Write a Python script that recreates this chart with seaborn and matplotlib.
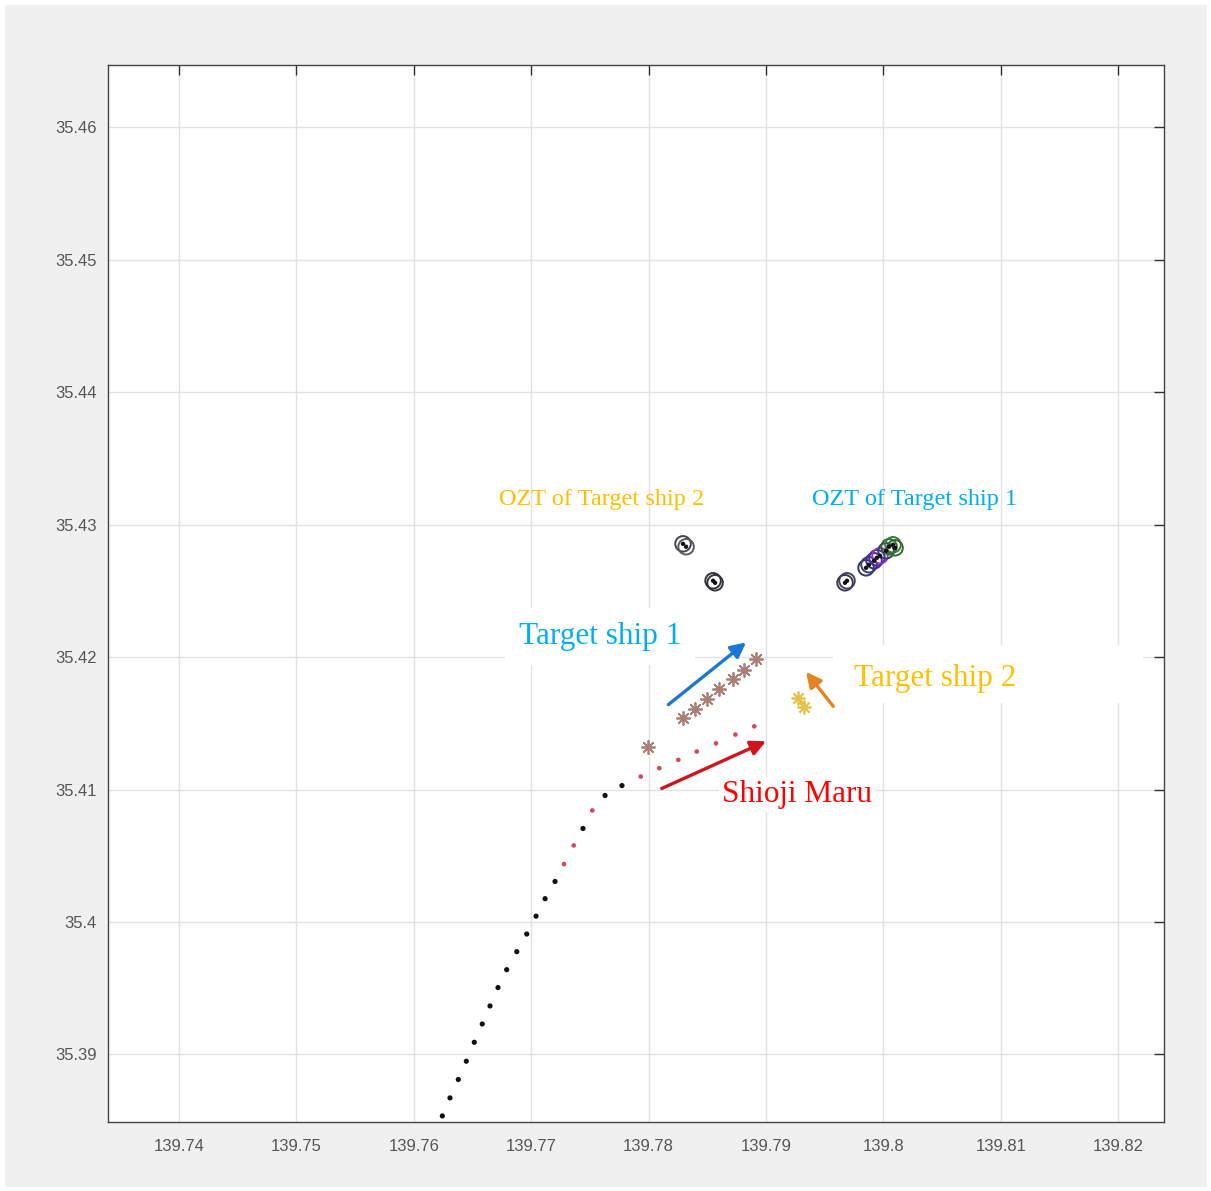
import numpy as np
import pandas as pd
import matplotlib
matplotlib.use("Agg")
import matplotlib.pyplot as plt
from matplotlib.patches import Rectangle
import seaborn as sns

# ---------------- data ----------------
own_black_lon = [139.76243, 139.76308, 139.76379, 139.76447, 139.76515, 139.76583, 139.76649,
                 139.76717, 139.76791, 139.76877, 139.76962, 139.77041, 139.77118, 139.77203,
                 139.77441, 139.77629, 139.77773]
own_black_lat = [35.38536, 35.38672, 35.38811, 35.38949, 35.39092, 35.39230, 35.39366,
                 35.39505, 35.39640, 35.39776, 35.39909, 35.40044, 35.40176, 35.40306,
                 35.40706, 35.40955, 35.41030]
own_red_lon = [139.77279, 139.77362, 139.77520, 139.77933, 139.78091, 139.78253, 139.78410,
               139.78574, 139.78739, 139.78900]
own_red_lat = [35.40437, 35.40578, 35.40842, 35.41098, 35.41161, 35.41224, 35.41287,
               35.41349, 35.41415, 35.41477]

ts1_lon = [139.77998, 139.78296, 139.78398, 139.78500, 139.78602, 139.78716, 139.78815, 139.78915]
ts1_lat = [35.41319, 35.41538, 35.41611, 35.41686, 35.41759, 35.41835, 35.41905, 35.41986]

ts2_lon = [139.79275, 139.79324]
ts2_lat = [35.41692, 35.41621]

ozt2_lon = [139.78293, 139.78319, 139.78549, 139.78566]
ozt2_lat = [35.42855, 35.42833, 35.42576, 35.42561]
ozt2_col = ["#44444e", "#5a5a62", "#34343e", "#34343e"]

ozt1_lon = [139.79673, 139.79690, 139.79852, 139.79877, 139.79920, 139.79945, 139.79971,
            139.80022, 139.80048, 139.80082, 139.80099]
ozt1_lat = [35.42561, 35.42576, 35.42674, 35.42697, 35.42727, 35.42750, 35.42765,
            35.42802, 35.42833, 35.42848, 35.42825]
ozt1_col = ["#3a3a50", "#44445a", "#34346e", "#3a3a74", "#3a2a8a", "#4a2aa0", "#9a30c0",
            "#3a3a70", "#2f6a2f", "#3a7a3a", "#2f6a2f"]

# arrows: (start lon, start lat, end lon, end lat)
arrow_ts1 = [139.78168, 35.41641, 139.78830, 35.42111]
arrow_own = [139.78112, 35.41008, 139.79000, 35.41364]
arrow_ts2 = [139.79573, 35.41628, 139.79341, 35.41888]

xticks = [139.74, 139.75, 139.76, 139.77, 139.78, 139.79, 139.80, 139.81, 139.82]
xticklabels = ["139.74", "139.75", "139.76", "139.77", "139.78", "139.79", "139.8", "139.81", "139.82"]
yticks = [35.39, 35.40, 35.41, 35.42, 35.43, 35.44, 35.45, 35.46]
yticklabels = ["35.39", "35.4", "35.41", "35.42", "35.43", "35.44", "35.45", "35.46"]

# ---------------- figure ----------------
sns.set_style("white")
plt.rcParams['font.family'] = ['Liberation Sans', 'DejaVu Sans']

fig = plt.figure(figsize=(12.11, 11.91), dpi=100, facecolor="white")
fig.patches.append(Rectangle((5 / 1211, 4 / 1191), 1 - 9 / 1211, 1 - 9 / 1191,
                             transform=fig.transFigure, facecolor="#f0f0f0",
                             edgecolor="none", zorder=-10))
ax = fig.add_axes([108 / 1211, 1 - 1122 / 1191, (1164 - 108) / 1211, (1122 - 65) / 1191])
ax.set_facecolor("white")

# own ship track
sns.scatterplot(x=own_black_lon, y=own_black_lat, ax=ax, color="#111111", s=14,
                marker="o", edgecolor="none", zorder=3)
sns.scatterplot(x=own_red_lon, y=own_red_lat, ax=ax, color="#d2485a", s=11,
                marker="o", edgecolor="none", zorder=3)

# target ships (asterisks)
sns.scatterplot(x=ts1_lon, y=ts1_lat, ax=ax, color="#a88078", s=90, marker=(8, 2, 0),
                linewidth=1.3, zorder=3)
sns.scatterplot(x=ts2_lon, y=ts2_lat, ax=ax, color="#e6c24a", s=80, marker=(8, 2, 0),
                linewidth=1.3, zorder=3)

# OZT circles
for lon, lat, col in [(ozt2_lon, ozt2_lat, ozt2_col), (ozt1_lon, ozt1_lat, ozt1_col)]:
    df = pd.DataFrame({"lon": lon, "lat": lat, "c": col})
    ax.scatter(df["lon"], df["lat"], s=125, facecolors="none", edgecolors=df["c"],
               linewidths=1.4, zorder=4)
    sns.scatterplot(data=df, x="lon", y="lat", ax=ax, color="#111111", s=10,
                    marker="o", edgecolor="none", zorder=5)

# arrows
for arr, col in [(arrow_ts1, "#1b78d2"), (arrow_own, "#d0141e"), (arrow_ts2, "#e58223")]:
    ax.annotate("", xy=(arr[2], arr[3]), xytext=(arr[0], arr[1]),
                arrowprops=dict(arrowstyle="-|>,head_length=0.9,head_width=0.45",
                                color=col, lw=2.4, shrinkA=0, shrinkB=0), zorder=6)

# labels
serif = ['Liberation Serif', 'DejaVu Serif']
ax.text(139.77599, 35.4319, "OZT of Target ship 2", color="#ffbf00", fontsize=17.5,
        family=serif, ha="center", va="center", zorder=7)
ax.text(139.80269, 35.4319, "OZT of Target ship 1", color="#00aeef", fontsize=17.5,
        family=serif, ha="center", va="center", zorder=7)
ax.text(139.77586, 35.42155, "Target ship 1", color="#00aeef", fontsize=22.5,
        family=serif, ha="center", va="center", zorder=7,
        bbox=dict(boxstyle="square,pad=0.45", facecolor="white", edgecolor="none"))
ax.add_patch(Rectangle((0.6866, 0.3964), 0.2934, 0.0549, transform=ax.transAxes,
                       facecolor="white", edgecolor="none", zorder=1.5))
ax.text(139.8044, 35.41838, "Target ship 2", color="#ffbf00", fontsize=22.5,
        family=serif, ha="center", va="center", zorder=7)
ax.text(139.79264, 35.40962, "Shioji Maru", color="#ff0000", fontsize=22.5,
        family=serif, ha="center", va="center", zorder=7,
        bbox=dict(boxstyle="square,pad=0.1", facecolor="white", edgecolor="none"))

# axes styling
ax.set_xlim(139.73395, 139.8239)
ax.set_ylim(35.3849, 35.4647)
ax.set_xticks(xticks)
ax.set_xticklabels(xticklabels)
ax.set_yticks(yticks)
ax.set_yticklabels(yticklabels)
ax.grid(True, color="#e2e2e2", linewidth=1.0, zorder=0)
ax.set_axisbelow(True)
ax.tick_params(axis="both", direction="in", length=7, width=1, color="#333333",
               labelsize=12, labelcolor="#555555", top=True, right=True)
ax.tick_params(axis="x", pad=12)
ax.tick_params(axis="y", pad=8)
for sp in ax.spines.values():
    sp.set_visible(True)
    sp.set_color("#444444")
    sp.set_linewidth(1.0)
ax.set_xlabel("")
ax.set_ylabel("")
if ax.get_legend():
    ax.get_legend().remove()

fig.savefig("out.png", dpi=100, facecolor=fig.get_facecolor())
